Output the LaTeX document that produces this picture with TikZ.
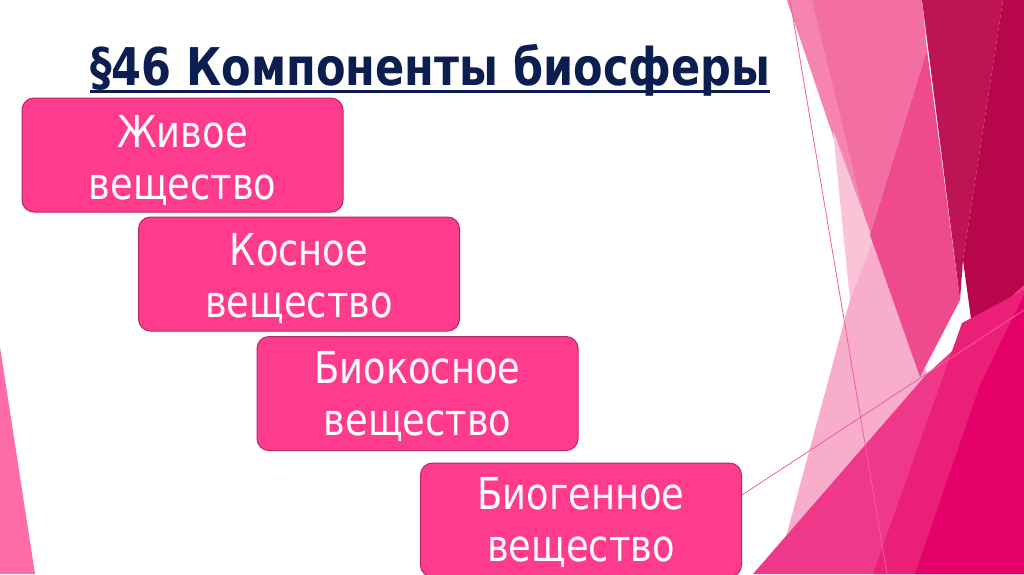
\documentclass[tikz,border=0pt]{standalone}
\usepackage{fontspec}
\setmainfont{DejaVu Sans Condensed}
\usetikzlibrary{calc}
\definecolor{navy}{HTML}{0B1E4F}
\definecolor{boxfill}{HTML}{FE3B8C}
\definecolor{boxedge}{HTML}{B42A66}
\definecolor{pkmid}{HTML}{F36EA1}
\definecolor{pkband}{HTML}{F585B0}
\definecolor{pkvlight}{HTML}{F9C4D8}
\definecolor{pklight}{HTML}{F8AECB}
\definecolor{pkmiddark}{HTML}{F04A8E}
\definecolor{crim}{HTML}{BE1454}
\definecolor{crimdark}{HTML}{B8064B}
\definecolor{hotbig}{HTML}{F0388A}
\definecolor{hotone}{HTML}{EC1F78}
\definecolor{hottwo}{HTML}{E5006A}
\definecolor{thinline}{HTML}{F0609A}
\definecolor{leftpink}{HTML}{FF6BA6}
\newcommand{\boxtext}[2]{\scalebox{0.93}[1]{#1}\\\scalebox{0.93}[1]{#2}}
\tikzset{
  box/.style={draw=boxedge, line width=1pt, fill=boxfill, rounded corners=12pt,
    minimum width=321pt, minimum height=114pt, inner sep=0pt},
  boxlabel/.style={text=white, font=\fontsize{44}{52}\selectfont, align=center, inner sep=0pt}
}
\begin{document}
\begin{tikzpicture}[x=1pt,y=-1pt]
\useasboundingbox (0,0) rectangle (1024,574);
\clip (0,0) rectangle (1024,574);
\fill[white] (0,0) rectangle (1024,574);
% left triangle
\fill[leftpink] (0,347) -- (35,574) -- (0,574) -- cycle;
% right decoration
\fill[pkmid] (787,0) -- (922,0) -- (927,50) -- (870,235) -- cycle;
\fill[pkband] (787,0) -- (812,0) -- (866,222) -- (860,216) -- cycle;
\fill[pkvlight] (833,130) -- (873,240) -- (850,300) -- cycle;
\fill[pklight] (850,300) -- (873,240) -- (930,380) -- (776,574) -- cycle;
\fill[pkmiddark] (927,50) -- (960,300) -- (920,377) -- (870,235) -- cycle;
\fill[crim] (922,0) -- (1003,0) -- (963,260) -- (960,300) -- cycle;
\fill[crimdark] (1003,0) -- (1024,0) -- (1024,290) -- (980,385) -- (963,260) -- cycle;
\fill[hotbig] (753,574) -- (925,376) -- (1024,285) -- (1024,574) -- cycle;
\fill[hotone] (873,574) -- (962,323) -- (1024,290) -- (1024,574) -- cycle;
\fill[hottwo] (915,574) -- (980,385) -- (1024,295) -- (1024,574) -- cycle;
\coordinate (l1a) at (790,0);
\coordinate (l1b) at (887,574);
\coordinate (l2a) at (742,495);
\coordinate (l2b) at (1024,310);
\draw[thinline, line width=0.8pt] (l1a) -- (l1b);
\draw[thinline, line width=0.8pt] (l2a) -- (l2b);
% title
\node[anchor=base west, inner sep=0pt, text=navy, font=\fontsize{52}{60}\selectfont\bfseries] (title) at (90,85) {\scalebox{0.92}[1]{§46 Компоненты биосферы}};
\draw[navy, line width=3pt] ($(title.base west)+(0,6)$) -- ($(title.base east)+(0,6)$);
% boxes
\node[box] (b1) at (182.5,155) {};
\node[box] (b2) at (299,274) {};
\node[box] (b3) at (417.5,393.5) {};
\node[box] (b4) at (581,520) {};
\node[boxlabel] (t1) at ($(b1.center)+(0,5)$) {\boxtext{Живое}{вещество}};
\node[boxlabel] (t2) at ($(b2.center)+(0,4)$) {\boxtext{Косное}{вещество}};
\node[boxlabel] (t3) at ($(b3.center)+(0,3)$) {\boxtext{Биокосное}{вещество}};
\node[boxlabel] (t4) at ($(b4.center)+(0,2)$) {\boxtext{Биогенное}{вещество}};
\end{tikzpicture}
\end{document}
